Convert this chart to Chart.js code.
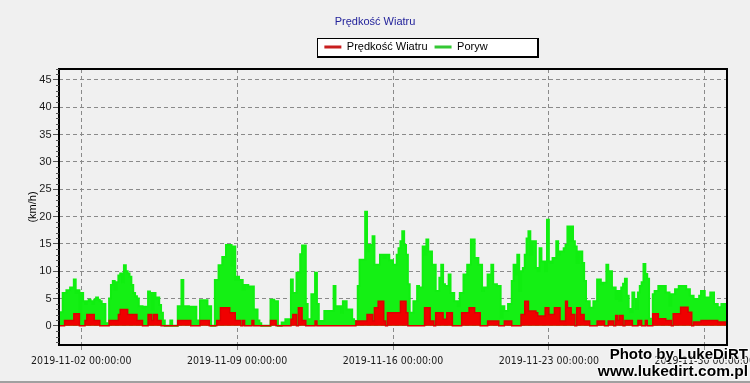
<!DOCTYPE html>
<html><head><meta charset="utf-8">
<script src="https://cdn.jsdelivr.net/npm/chart.js@4.4.1/dist/chart.umd.min.js"></script>
<style>html,body{margin:0;padding:0;background:#f0f0f0;}#wrap{position:relative;width:750px;height:383px;}</style>
</head><body><div id="wrap"><canvas id="c"></canvas></div>
<script>
const chartTitle = 'Prędkość Wiatru';
const seriesNames = ['Prędkość Wiatru', 'Poryw'];
const yAxisTitle = '(km/h)';
const watermark = ['Photo by LukeDiRT', 'www.lukedirt.com.pl'];
const xTickHours = [24, 192, 360, 528, 696];
const xTickLabels = ['2019-11-02 00:00:00', '2019-11-09 00:00:00', '2019-11-16 00:00:00', '2019-11-23 00:00:00', '2019-11-30 00:00:00'];
const yTicks = [0, 5, 10, 15, 20, 25, 30, 35, 40, 45];

// 2-hour readings, 1 Nov 00:00 to 1 Dec 00:00 (12 per day)
const windSpeed = [
  0, 0, 0, 1, 1, 1, 1, 1, 2.2, 2.2, 2.2, 0,
  0, 0, 1, 2.1, 2.1, 2.1, 2.1, 1, 1, 1, 0, 0,
  0, 0, 0, 1, 1, 1, 1, 1, 2.1, 3, 3, 3,
  3, 2.1, 2.1, 2.1, 2.1, 2.1, 1, 1, 1, 0, 0, 0,
  2.1, 2.1, 1, 2.1, 2.1, 1, 1, 0, 0, 0, 0, 0,
  0, 0, 0, 0, 1, 1, 1, 1, 1, 1, 1, 0,
  0, 0, 0, 0, 1, 1, 1, 1, 1, 0, 0, 0,
  0, 1, 1, 3.3, 3.3, 3.3, 3.3, 3.3, 2.4, 2.4, 2.4, 1,
  1, 1, 0, 1, 0, 0, 0, 0, 1, 0, 0, 0,
  0, 0, 0, 0, 0, 0, 1, 1, 1, 0, 0, 0,
  0, 0, 0, 0, 0, 1.2, 2.1, 2.1, 0, 3.3, 3.3, 1,
  1, 0, 0, 0, 0, 0, 0.9, 0, 0, 0, 0, 0,
  0, 0, 0, 0, 0, 0, 0, 0, 0, 0, 0, 0,
  0, 0, 0, 0, 0.9, 0.9, 0.9, 0.9, 0.9, 0.9, 2.1, 2.1,
  2.1, 0.9, 3.3, 3.3, 4.5, 4.5, 4.5, 0.9, 0, 2.4, 2.4, 2.4,
  2.4, 2.4, 2.4, 2.4, 4.5, 4.5, 4.5, 2.4, 0, 0, 0, 0,
  0, 0, 0, 0, 0, 3.3, 3.3, 3.3, 0.9, 0.9, 0, 2.4,
  2.4, 2.4, 2.4, 1.2, 1.2, 2.4, 2.4, 2.4, 0, 0, 0, 0,
  0, 2.4, 2.4, 2.4, 2.4, 3.3, 3.3, 3.3, 2.4, 2.4, 2.4, 0,
  0, 0, 0, 0.9, 0.9, 0.9, 0.9, 0.9, 0.9, 0, 0, 0,
  0.9, 0.9, 0.9, 0.9, 0, 0, 0, 0, 0, 2.1, 2.1, 4.5,
  4.5, 2.7, 2.7, 2.7, 2.7, 2.4, 1.8, 1.8, 1.8, 1.8, 3.3, 3.3,
  2.1, 2.1, 2.1, 3.3, 3.3, 3.3, 0.9, 0.9, 0.9, 4.5, 3.3, 3.3,
  2.1, 2.1, 0, 3.3, 3.3, 2.1, 2.1, 0.9, 0.9, 0.9, 0, 0,
  0, 0, 0.9, 0.9, 0.9, 0.9, 0, 0, 0.9, 0.9, 0.9, 0,
  1.9, 1, 1.9, 1.9, 0, 1, 1, 1, 1, 0, 0, 0,
  1, 1, 0, 0, 1, 0, 0, 0, 2.2, 2.2, 2.2, 1.3,
  1.3, 1.3, 1.3, 1, 1, 1, 0, 2.2, 2.2, 2.2, 2.2, 3.4,
  3.4, 3.4, 3.4, 2.5, 2.5, 0, 0.7, 0.7, 0.7, 0.7, 1, 1,
  1, 1, 1, 1, 1, 1, 1, 0.7, 0.7, 0.7, 0.7, 0.7
];
const gust = [
  2.5, 2.5, 6, 6, 6.5, 6.5, 7, 7, 8.5, 6, 6.5, 1,
  6, 4.5, 4, 4.5, 4.8, 4.5, 4, 4.8, 5.2, 4.8, 4.5, 4,
  4, 0.5, 0.5, 5, 7.5, 8.2, 6.6, 8, 9.2, 9.6, 8, 11.1,
  10, 9.6, 9, 7.5, 6, 5.4, 5, 3.6, 3.6, 3.2, 3.5, 3.5,
  6.3, 6, 3, 6, 5, 5.2, 3.8, 2.4, 1, 0, 0, 0,
  1, 0, 0, 0, 3.6, 3.6, 8.4, 3.6, 3.6, 3.6, 3.5, 3.5,
  3.5, 3.5, 1, 0.5, 4.7, 4.7, 4.7, 4.7, 3.6, 3.6, 0, 0,
  8.4, 8.4, 11.1, 11.1, 12.6, 12.6, 14.8, 14.8, 14.8, 11, 14.5, 8.4,
  9, 8.4, 8.4, 6.6, 7.5, 7.5, 7.2, 7.2, 7.2, 3, 3, 1,
  0.5, 0, 0, 0, 0, 0, 4.8, 4.8, 4.5, 4.5, 0, 0,
  0.6, 0.6, 1.2, 1.2, 1.2, 8.5, 6, 6, 9.7, 9.7, 13.1, 14.7,
  14.7, 4, 1.2, 1.2, 5.8, 5.8, 9.7, 4, 0.9, 0.9, 0.9, 2.7,
  2.7, 2.7, 2.7, 2.7, 7.3, 3.6, 3.6, 3.6, 2.4, 4.5, 4.5, 3,
  3, 3, 1.2, 0.9, 0.9, 7.3, 12.1, 12.1, 12.1, 20.9, 13.6, 14.8,
  14.8, 16.4, 11.2, 11.2, 11.2, 13, 13, 12.4, 13, 13, 12, 12,
  11.2, 11.2, 13, 14.2, 15.5, 17.3, 14.8, 13, 7.6, 2.4, 2.4, 4.5,
  4.5, 7.3, 7, 7, 14.5, 13, 15.8, 13.6, 13.6, 11.2, 11.2, 6.4,
  6.4, 8.8, 11.2, 7.6, 7.3, 7.3, 9.4, 6, 6, 4.5, 4.5, 3.6,
  6, 6, 9.4, 9.4, 11.2, 11.2, 15.8, 15.8, 12.4, 12.4, 11.2, 11.2,
  6.4, 7, 7, 9.4, 9.4, 11.2, 7.6, 7.6, 7.3, 7.3, 1.5, 3.6,
  2.7, 2.7, 4, 4, 8.2, 11.2, 9.4, 13, 6.4, 10, 10.6, 13,
  16, 17.3, 13, 15.5, 15.5, 10.6, 10, 14.2, 11.8, 11.8, 10, 19.4,
  11.8, 11.5, 12.4, 12.4, 15.5, 13, 13.6, 13.6, 14.2, 14.8, 18.2, 15.5,
  18.2, 15.5, 14.5, 11.5, 13.6, 13.6, 11.5, 8.2, 4.5, 4.5, 3.3, 3.3,
  4.5, 4.5, 8.5, 8.5, 7.6, 7.9, 7.9, 11.2, 10, 10, 7, 7,
  4.9, 6.4, 4.6, 7, 7.7, 8.6, 5.5, 3.1, 2.5, 6.1, 4.9, 3.1,
  6.1, 7.3, 8, 11.3, 9.5, 8.6, 1.3, 1.3, 5.8, 6.4, 6.4, 7.3,
  7.3, 7.3, 7.3, 6.1, 6.1, 3.7, 5.8, 5.8, 6.7, 6.7, 7.3, 7.3,
  7.3, 7.3, 6.7, 6.7, 5.5, 5.5, 4.9, 4.9, 4.9, 5.5, 6.4, 6.4,
  5.2, 5.2, 5.2, 6.1, 6.1, 4, 4, 3.4, 3.4, 4, 4, 4
];
// hour offset (centre of each 2-hour interval) from 2019-11-01 00:00
const hours = windSpeed.map((_, i) => i * 2 + 1);

const legendColors = ['#c81e1e', '#34c834'];

const decor = {
  id: 'decor',
  afterLayout(chart) {
    const lg = chart.legend, tb = chart.titleBlock;
    lg.left += 31; lg.right += 31;
    lg.top -= 6.5; lg.bottom -= 6.5;
    tb.top -= 6.5; tb.bottom -= 6.5;
  },
  beforeDraw(chart) {
    const ctx = chart.ctx;
    ctx.save();
    ctx.fillStyle = '#f0f0f0';
    ctx.fillRect(0, 0, chart.width, chart.height);
    const lg = chart.legend;
    const p = lg.options.labels.padding;
    const fs = lg.options.labels.font.size;
    const x0 = (lg.left + p + lg.right - lg.lineWidths[0]) / 2;
    const yc = lg.top + p + fs / 2;
    const l = Math.round(x0 - 7), t = Math.round(yc - 9), w = 220, h = 18;
    ctx.fillStyle = '#000';
    ctx.fillRect(l, t, w + 2, h + 2);
    ctx.fillStyle = '#fff';
    ctx.fillRect(l + 1, t + 1, w - 1, h - 1);
    ctx.restore();
  },
  afterDatasetsDraw(chart) {
    const ctx = chart.ctx, a = chart.chartArea, ys = chart.scales.y;
    ctx.save();
    ctx.strokeStyle = '#000';
    ctx.lineWidth = 2;
    ctx.strokeRect(a.left, a.top, a.right - a.left, a.bottom - a.top);
    ctx.lineWidth = 1;
    ctx.strokeStyle = '#555';
    ctx.beginPath();
    for (let v = Math.ceil(ys.min); v <= ys.max; v++) {
      if (v % 5 === 0) continue;
      const y = Math.round(ys.getPixelForValue(v)) + 0.5;
      ctx.moveTo(a.left - 3, y); ctx.lineTo(a.left, y);
    }
    ctx.stroke();
    ctx.restore();
  },
  afterDraw(chart) {
    const ctx = chart.ctx;
    ctx.save();
    ctx.fillStyle = '#a0a0a0';
    ctx.fillRect(0, chart.height - 2, chart.width, 2);
    ctx.textAlign = 'right';
    ctx.textBaseline = 'alphabetic';
    ctx.lineJoin = 'round';
    const lines = [[watermark[0], 359, 15], [watermark[1], 376, 15.5]];
    for (const [txt, y, sz] of lines) {
      ctx.font = 'bold ' + sz + 'px "Liberation Sans", Arial, sans-serif';
      ctx.strokeStyle = 'rgba(255,255,255,0.8)';
      ctx.lineWidth = 2;
      ctx.strokeText(txt, 748, y);
      ctx.fillStyle = '#000';
      ctx.fillText(txt, 748, y);
    }
    ctx.restore();
  }
};

new Chart(document.getElementById('c'), {
  type: 'line',
  data: {
    datasets: [
      {
        label: seriesNames[0],
        data: windSpeed.map((v, i) => ({ x: hours[i], y: v })),
        borderColor: '#dd0000', backgroundColor: '#f00000',
        borderWidth: 1.5, fill: 'origin', stepped: 'middle', pointRadius: 0
      },
      {
        label: seriesNames[1],
        data: gust.map((v, i) => ({ x: hours[i], y: v })),
        borderColor: '#10ee10', backgroundColor: '#14f014',
        borderWidth: 2, fill: 'origin', stepped: 'middle', pointRadius: 0
      }
    ]
  },
  options: {
    responsive: true, maintainAspectRatio: false, animation: false,
    layout: { padding: { left: 23, right: 23, top: 0, bottom: 0 } },
    plugins: {
      tooltip: { enabled: false },
      title: {
        display: true, text: chartTitle, color: '#23239b',
        font: { family: '"Liberation Sans", Arial, sans-serif', size: 11, weight: 'normal' },
        padding: { top: 15.4, bottom: 5.9 }
      },
      legend: {
        display: true, position: 'top',
        labels: {
          color: '#000', usePointStyle: true, pointStyleWidth: 17, padding: 7,
          font: { family: '"Liberation Sans", Arial, sans-serif', size: 11 },
          generateLabels: (chart) => chart.data.datasets.map((ds, i) => ({
            text: ds.label, fillStyle: legendColors[i], strokeStyle: legendColors[i],
            lineWidth: 3, pointStyle: 'line', hidden: false, datasetIndex: i, fontColor: '#000'
          }))
        }
      }
    },
    scales: {
      x: {
        type: 'linear', min: 0, max: 720,
        afterBuildTicks: (s) => { s.ticks = xTickHours.map(v => ({ value: v })); },
        afterFit: (s) => { s.height = 38; s.paddingLeft = 0; s.paddingRight = 0; },
        ticks: {
          autoSkip: false, maxRotation: 0, minRotation: 0, padding: 5, color: '#1a1a1a',
          font: { family: '"Liberation Sans Narrow", "DejaVu Sans Condensed", Arial, sans-serif', size: 10.5 },
          callback: (v, i) => xTickLabels[i]
        },
        grid: { color: '#8a8a8a', lineWidth: 1, tickLength: 5, tickColor: '#8a8a8a' },
        border: { display: false, dash: [4, 3] }
      },
      y: {
        min: -3.5, max: 47,
        afterBuildTicks: (s) => { s.ticks = yTicks.map(v => ({ value: v })); },
        afterFit: (s) => { s.width = 36; s.paddingTop = 69; },
        ticks: {
          padding: 1.5, color: '#1a1a1a',
          font: { family: '"Liberation Sans", Arial, sans-serif', size: 11 }
        },
        title: {
          display: true, text: yAxisTitle, color: '#000',
          font: { family: '"Liberation Sans", Arial, sans-serif', size: 11 },
          padding: { top: 3.4, bottom: 0 }
        },
        grid: { color: '#8a8a8a', lineWidth: 1, tickLength: 6, tickColor: '#555' },
        border: { display: false, dash: [4, 3] }
      }
    }
  },
  plugins: [decor]
});
</script>
</body></html>
